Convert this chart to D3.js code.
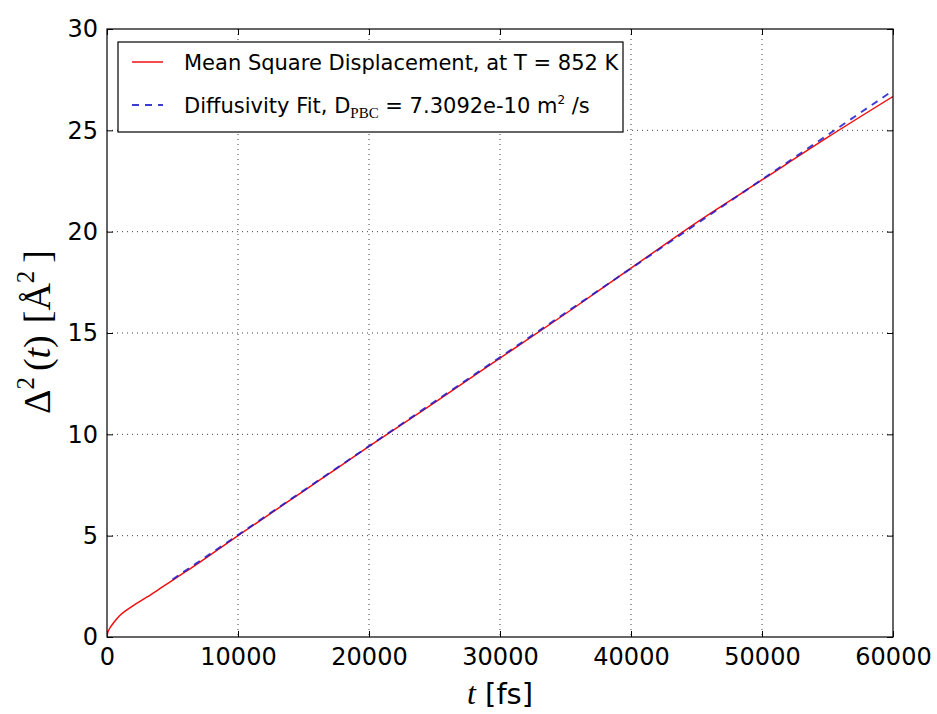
<!DOCTYPE html>
<html>
<head>
<meta charset="utf-8">
<script src="https://cdn.jsdelivr.net/npm/d3@7"></script>
<style>
  html, body { margin: 0; padding: 0; background: #fff; }
  svg { display: block; }
</style>
</head>
<body>
<svg id="chart" width="937" height="714"></svg>
<script>
// ---- data ----
const msdTime  = [0, 50, 150, 300, 500, 750, 1000, 1500, 2000, 3000, 4000, 5000, 6000, 8000, 10000, 12500, 15000, 17500, 20000, 25000, 30000, 35000, 40000, 45000, 50000, 55000, 60000];
const msdValue = [0, 0.2, 0.36, 0.52, 0.7, 0.9, 1.07, 1.33, 1.55, 1.95, 2.37, 2.8, 3.22, 4.1, 5.0, 6.1, 7.2, 8.3, 9.4, 11.57, 13.76, 15.95, 18.2, 20.45, 22.55, 24.65, 26.67];
const fitTime  = [5000, 60000];
const fitValue = [2.84, 26.96];
const xTicks = [0, 10000, 20000, 30000, 40000, 50000, 60000];
const yTicks = [0, 5, 10, 15, 20, 25, 30];
const legendMSD = "Mean Square Displacement, at T = 852 K";

const SANS = '"DejaVu Sans", sans-serif';
const SERIF = '"Liberation Serif", "DejaVu Serif", serif';

const svg = d3.select("#chart");
const L = 107, R = 893, T = 29, B = 637;

const x = d3.scaleLinear().domain([0, 60000]).range([L, R]);
const y = d3.scaleLinear().domain([0, 30]).range([B, T]);

// grid
const grid = svg.append("g");
grid.selectAll(".gx").data(xTicks.slice(1, -1)).enter().append("line")
  .attr("x1", d => x(d)).attr("x2", d => x(d)).attr("y1", T).attr("y2", B)
  .attr("stroke", "#000").attr("stroke-width", 1).attr("stroke-dasharray", "1,4").attr("opacity", 0.75);
grid.selectAll(".gy").data(yTicks.slice(1, -1)).enter().append("line")
  .attr("y1", d => y(d)).attr("y2", d => y(d)).attr("x1", L).attr("x2", R)
  .attr("stroke", "#000").attr("stroke-width", 1).attr("stroke-dasharray", "1,4").attr("opacity", 0.75);

// axes (inward ticks on all four sides)
const tickLen = 6;
const xAxisB = d3.axisBottom(x).tickValues(xTicks).tickSize(-tickLen).tickPadding(11).tickFormat(d3.format("d"));
const xAxisT = d3.axisTop(x).tickValues(xTicks).tickSize(-tickLen).tickFormat("");
const yAxisL = d3.axisLeft(y).tickValues(yTicks).tickSize(-tickLen).tickPadding(9).tickFormat(d3.format("d"));
const yAxisR = d3.axisRight(y).tickValues(yTicks).tickSize(-tickLen).tickFormat("");

function styleAxis(g) {
  g.select(".domain").remove();
  g.selectAll("line").attr("stroke", "#000").attr("stroke-width", 1);
  g.selectAll("text").style("font-family", SANS).style("font-size", "24px").attr("fill", "#000");
}
svg.append("g").attr("transform", `translate(0,${B})`).call(xAxisB).call(styleAxis);
svg.append("g").attr("transform", `translate(0,${T})`).call(xAxisT).call(styleAxis);
svg.append("g").attr("transform", `translate(${L},0)`).call(yAxisL).call(styleAxis);
svg.append("g").attr("transform", `translate(${R},0)`).call(yAxisR).call(styleAxis);

// clip
svg.append("clipPath").attr("id", "clip").append("rect")
  .attr("x", L).attr("y", T).attr("width", R - L).attr("height", B - T);

const line = d3.line().x(d => x(d[0])).y(d => y(d[1])).curve(d3.curveMonotoneX);
const msd = msdTime.map((t, i) => [t, msdValue[i]]);
const fit = fitTime.map((t, i) => [t, fitValue[i]]);

svg.append("path").datum(msd).attr("clip-path", "url(#clip)")
  .attr("d", line).attr("fill", "none").attr("stroke", "#f01010").attr("stroke-width", 1.5);
svg.append("path").datum(fit).attr("clip-path", "url(#clip)")
  .attr("d", line).attr("fill", "none").attr("stroke", "#1a1ad0").attr("stroke-width", 1.9)
  .attr("stroke-dasharray", "7,6").attr("opacity", 0.85);

// frame
svg.append("rect").attr("x", L).attr("y", T).attr("width", R - L).attr("height", B - T)
  .attr("fill", "none").attr("stroke", "#000").attr("stroke-width", 1.2);

// legend
const lg = svg.append("g");
lg.append("rect").attr("x", 118).attr("y", 42).attr("width", 505).attr("height", 90)
  .attr("fill", "#fff").attr("stroke", "#000").attr("stroke-width", 1.2);
lg.append("line").attr("x1", 132).attr("x2", 163).attr("y1", 62).attr("y2", 62)
  .attr("stroke", "#f01010").attr("stroke-width", 1.5);
lg.append("line").attr("x1", 132).attr("x2", 163).attr("y1", 105).attr("y2", 105)
  .attr("stroke", "#1a1ad0").attr("stroke-width", 1.9).attr("stroke-dasharray", "7,6").attr("opacity", 0.85);
lg.append("text").attr("x", 184).attr("y", 70).style("font-family", SANS).style("font-size", "21px").text(legendMSD);
const t2 = lg.append("text").attr("x", 184).attr("y", 113).style("font-family", SANS).style("font-size", "21px");
t2.append("tspan").text("Diffusivity Fit, D");
t2.append("tspan").style("font-family", SERIF).style("font-size", "15px").attr("dy", 5).text("PBC");
t2.append("tspan").attr("dy", -5).text(" = 7.3092e-10 m");
t2.append("tspan").style("font-size", "12px").attr("dy", -9).text("2");
t2.append("tspan").attr("dy", 9).text(" /s");

// x label
const xl = svg.append("text").attr("x", 500).attr("y", 704).attr("text-anchor", "middle")
  .style("font-family", SANS).style("font-size", "29px");
xl.append("tspan").style("font-family", SERIF).style("font-style", "italic").style("font-size", "32px").text("t");
xl.append("tspan").text(" [fs]");

// y label
const yl = svg.append("text").attr("transform", "translate(50,332) rotate(-90)")
  .attr("text-anchor", "middle").style("font-family", SERIF).style("font-size", "38px");
yl.append("tspan").text("Δ");
yl.append("tspan").style("font-size", "25px").attr("dy", -16).text("2");
yl.append("tspan").attr("dy", 16).attr("dx", 6).text("(");
yl.append("tspan").style("font-style", "italic").text("t");
yl.append("tspan").text(")");
yl.append("tspan").attr("dx", 12).text("[Å");
yl.append("tspan").style("font-size", "25px").attr("dy", -16).text("2");
yl.append("tspan").attr("dy", 16).attr("dx", 8).text("]");
</script>
</body>
</html>
